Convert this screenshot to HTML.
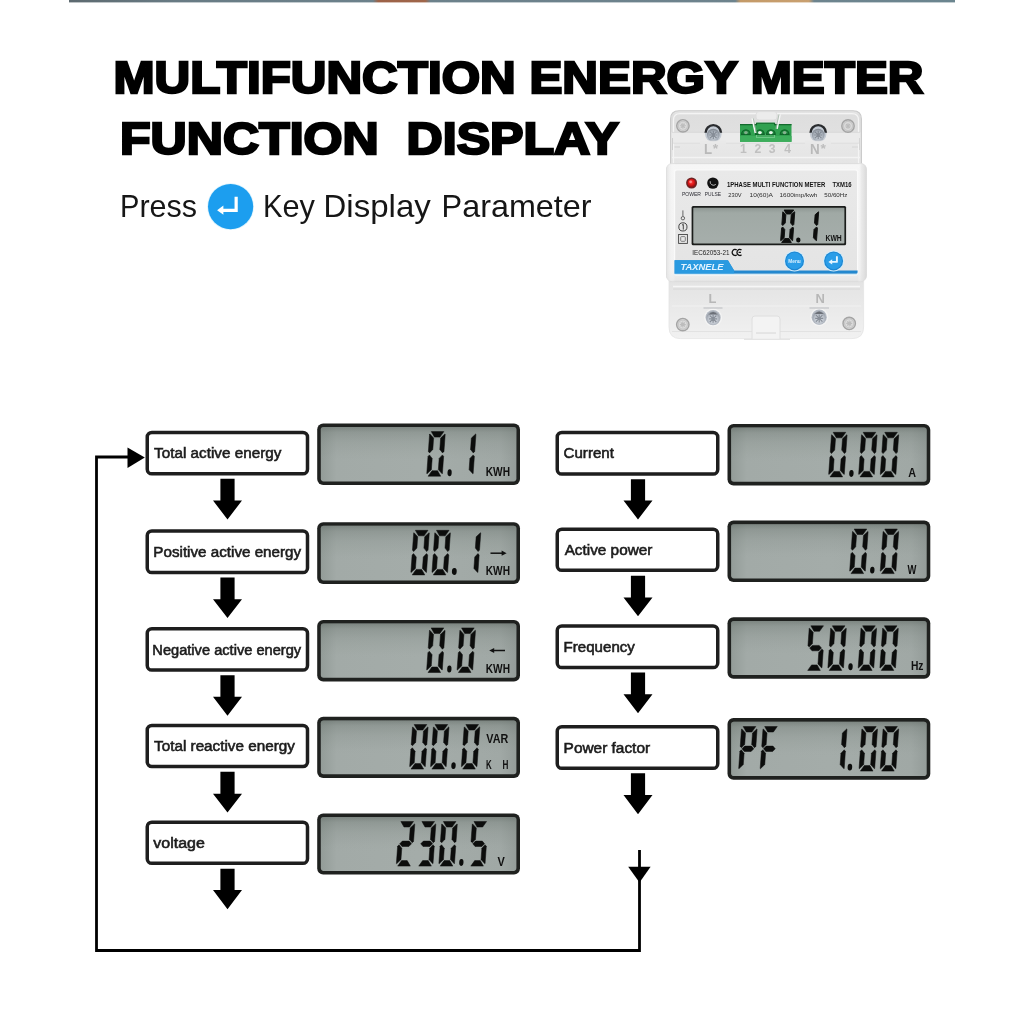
<!DOCTYPE html>
<html><head><meta charset="utf-8"><title>Multifunction Energy Meter Function Display</title>
<style>
html,body{margin:0;padding:0;background:#fff;}
body{width:1024px;height:1024px;overflow:hidden;font-family:"Liberation Sans",sans-serif;}
svg{display:block;position:absolute;left:0;top:0;will-change:transform;}
text{font-family:"Liberation Sans",sans-serif;}
</style></head><body>
<svg width="1024" height="1024" viewBox="0 0 1024 1024">
<defs>
<linearGradient id="lcdg" x1="0" y1="0" x2="1" y2="0">
<stop offset="0" stop-color="#939c98"/><stop offset="0.08" stop-color="#a2aaa7"/><stop offset="0.5" stop-color="#a4aca9"/><stop offset="0.92" stop-color="#a0a8a5"/><stop offset="1" stop-color="#949c99"/>
</linearGradient>
<linearGradient id="lcdv" x1="0" y1="0" x2="0" y2="1">
<stop offset="0" stop-color="#56605a" stop-opacity="0.5"/><stop offset="0.1" stop-color="#636d67" stop-opacity="0.3"/><stop offset="0.28" stop-color="#6f7973" stop-opacity="0.16"/><stop offset="0.5" stop-color="#7a837d" stop-opacity="0.05"/><stop offset="0.65" stop-color="#a4aca9" stop-opacity="0"/><stop offset="1" stop-color="#a4aca9" stop-opacity="0"/>
</linearGradient>
<linearGradient id="strip" x1="0" y1="0" x2="1" y2="0">
<stop offset="0" stop-color="#5d6a70"/><stop offset="0.12" stop-color="#687b84"/><stop offset="0.343" stop-color="#6c818b"/><stop offset="0.349" stop-color="#9c6248"/><stop offset="0.402" stop-color="#a0664a"/><stop offset="0.408" stop-color="#6c818b"/><stop offset="0.752" stop-color="#6d838d"/><stop offset="0.758" stop-color="#c49a68"/><stop offset="0.835" stop-color="#c9a070"/><stop offset="0.841" stop-color="#6d848e"/><stop offset="1" stop-color="#6b858f"/>
</linearGradient>
</defs>
<rect width="1024" height="1024" fill="#fff"/>
<rect x="69" y="0" width="886" height="2.4" fill="url(#strip)"/>

<g id="title">
<text x="113.5" y="92.85" font-size="45" font-weight="bold" fill="#000" stroke="#000" stroke-width="2.4" stroke-linejoin="miter" textLength="810" lengthAdjust="spacingAndGlyphs">MULTIFUNCTION ENERGY METER</text>
<text x="120" y="154.15" font-size="45" font-weight="bold" fill="#000" stroke="#000" stroke-width="2.4" stroke-linejoin="miter" textLength="499" lengthAdjust="spacingAndGlyphs" xml:space="preserve" style="white-space:pre">FUNCTION  DISPLAY</text>
</g>
<g id="press">
<text x="120.00" y="217.10" font-size="30.50" textLength="77.00" lengthAdjust="spacingAndGlyphs" fill="#161616">P<tspan font-size="32.00">ress</tspan></text>
<text x="262.90" y="217.10" font-size="30.50" textLength="52.00" lengthAdjust="spacingAndGlyphs" fill="#161616">K<tspan font-size="32.00">ey</tspan></text>
<text x="323.60" y="217.10" font-size="30.50" textLength="107.20" lengthAdjust="spacingAndGlyphs" fill="#161616">D<tspan font-size="32.00">isplay</tspan></text>
<text x="441.60" y="217.10" font-size="30.50" textLength="150.00" lengthAdjust="spacingAndGlyphs" fill="#161616">P<tspan font-size="32.00">arameter</tspan></text>
<circle cx="230.6" cy="206.6" r="23.4" fill="#bfe9fb" opacity="0.55"/>
<circle cx="230.6" cy="206.6" r="22.6" fill="#1c9eef"/>
<path d="M236.15 196.8 V210.35 H222.6" fill="none" stroke="#fff" stroke-width="3.2"/>
<polygon points="217.1,210.3 223.4,205.5 223.4,214.7" fill="#fff"/>
</g>
<g id="flow">
<path d="M128 457 H96.5 V950.5 H639.5 V850" fill="none" stroke="#000" stroke-width="2.8"/>
<polygon points="127.5,447.5 144.8,457.5 127.5,468" fill="#000"/>
<polygon points="628.2,866.7 650.6,866.7 639.5,882.6" fill="#000"/>
<rect x="147.25" y="432.50" width="160.25" height="41.25" rx="4.6" ry="4.6" fill="#fff" stroke="#1e1e1e" stroke-width="3.50"/>
<text x="154.12" y="458.25" font-size="13.80" textLength="127.23" lengthAdjust="spacingAndGlyphs" fill="#1c1c1c" stroke="#1c1c1c" stroke-width="0.55">Total active energy</text>
<polygon fill="#000" points="220.40,478.75 234.60,478.75 234.60,500.50 242.00,500.50 227.50,519.50 213.00,500.50 220.40,500.50"/>
<rect x="147.25" y="531.00" width="160.25" height="41.50" rx="4.6" ry="4.6" fill="#fff" stroke="#1e1e1e" stroke-width="3.50"/>
<text x="153.37" y="557.00" font-size="13.80" textLength="147.74" lengthAdjust="spacingAndGlyphs" fill="#1c1c1c" stroke="#1c1c1c" stroke-width="0.55">Positive active energy</text>
<polygon fill="#000" points="220.40,577.50 234.60,577.50 234.60,599.25 242.00,599.25 227.50,618.00 213.00,599.25 220.40,599.25"/>
<rect x="147.25" y="628.75" width="160.25" height="41.25" rx="4.6" ry="4.6" fill="#fff" stroke="#1e1e1e" stroke-width="3.50"/>
<text x="152.37" y="654.50" font-size="13.80" textLength="148.74" lengthAdjust="spacingAndGlyphs" fill="#1c1c1c" stroke="#1c1c1c" stroke-width="0.55">Negative active energy</text>
<polygon fill="#000" points="220.40,675.25 234.60,675.25 234.60,696.75 242.00,696.75 227.50,715.75 213.00,696.75 220.40,696.75"/>
<rect x="147.25" y="725.50" width="160.25" height="41.00" rx="4.6" ry="4.6" fill="#fff" stroke="#1e1e1e" stroke-width="3.50"/>
<text x="154.12" y="751.25" font-size="13.80" textLength="140.73" lengthAdjust="spacingAndGlyphs" fill="#1c1c1c" stroke="#1c1c1c" stroke-width="0.55">Total reactive energy</text>
<polygon fill="#000" points="220.40,771.75 234.60,771.75 234.60,793.75 242.00,793.75 227.50,812.50 213.00,793.75 220.40,793.75"/>
<rect x="147.25" y="822.25" width="160.25" height="41.00" rx="4.6" ry="4.6" fill="#fff" stroke="#1e1e1e" stroke-width="3.50"/>
<text x="153.37" y="847.75" font-size="13.80" textLength="51.48" lengthAdjust="spacingAndGlyphs" fill="#1c1c1c" stroke="#1c1c1c" stroke-width="0.55">voltage</text>
<polygon fill="#000" points="220.40,868.75 234.60,868.75 234.60,890.00 242.00,890.00 227.50,909.25 213.00,890.00 220.40,890.00"/>
<rect x="557.25" y="432.50" width="160.50" height="41.50" rx="4.6" ry="4.6" fill="#fff" stroke="#1e1e1e" stroke-width="3.50"/>
<text x="563.62" y="458.25" font-size="13.80" textLength="50.24" lengthAdjust="spacingAndGlyphs" fill="#1c1c1c" stroke="#1c1c1c" stroke-width="0.55">Current</text>
<polygon fill="#000" points="630.90,479.25 645.10,479.25 645.10,500.50 652.50,500.50 638.00,519.50 623.50,500.50 630.90,500.50"/>
<rect x="557.25" y="529.25" width="160.50" height="41.00" rx="4.6" ry="4.6" fill="#fff" stroke="#1e1e1e" stroke-width="3.50"/>
<text x="564.65" y="555.25" font-size="13.80" textLength="87.70" lengthAdjust="spacingAndGlyphs" fill="#1c1c1c" stroke="#1c1c1c" stroke-width="0.55">Active power</text>
<polygon fill="#000" points="630.90,575.75 645.10,575.75 645.10,597.50 652.50,597.50 638.00,616.25 623.50,597.50 630.90,597.50"/>
<rect x="557.25" y="626.00" width="160.50" height="41.50" rx="4.6" ry="4.6" fill="#fff" stroke="#1e1e1e" stroke-width="3.50"/>
<text x="563.62" y="652.25" font-size="13.80" textLength="71.24" lengthAdjust="spacingAndGlyphs" fill="#1c1c1c" stroke="#1c1c1c" stroke-width="0.55">Frequency</text>
<polygon fill="#000" points="630.90,672.50 645.10,672.50 645.10,694.25 652.50,694.25 638.00,713.25 623.50,694.25 630.90,694.25"/>
<rect x="557.25" y="726.75" width="160.50" height="41.50" rx="4.6" ry="4.6" fill="#fff" stroke="#1e1e1e" stroke-width="3.50"/>
<text x="563.62" y="753.25" font-size="13.80" textLength="86.49" lengthAdjust="spacingAndGlyphs" fill="#1c1c1c" stroke="#1c1c1c" stroke-width="0.55">Power factor</text>
<polygon fill="#000" points="630.90,773.25 645.10,773.25 645.10,795.00 652.50,795.00 638.00,814.25 623.50,795.00 630.90,795.00"/>
<rect x="317.20" y="423.40" width="202.80" height="61.60" rx="6" ry="6" fill="#1f211f"/><rect x="320.80" y="427.00" width="195.60" height="54.40" rx="2.8" ry="2.8" fill="url(#lcdg)"/><rect x="320.80" y="427.00" width="195.60" height="54.40" rx="2.8" ry="2.8" fill="url(#lcdv)"/>
<rect x="317.20" y="522.20" width="202.80" height="61.80" rx="6" ry="6" fill="#1f211f"/><rect x="320.80" y="525.80" width="195.60" height="54.60" rx="2.8" ry="2.8" fill="url(#lcdg)"/><rect x="320.80" y="525.80" width="195.60" height="54.60" rx="2.8" ry="2.8" fill="url(#lcdv)"/>
<rect x="317.20" y="620.00" width="202.80" height="61.40" rx="6" ry="6" fill="#1f211f"/><rect x="320.80" y="623.60" width="195.60" height="54.20" rx="2.8" ry="2.8" fill="url(#lcdg)"/><rect x="320.80" y="623.60" width="195.60" height="54.20" rx="2.8" ry="2.8" fill="url(#lcdv)"/>
<rect x="317.20" y="716.80" width="202.80" height="61.10" rx="6" ry="6" fill="#1f211f"/><rect x="320.80" y="720.40" width="195.60" height="53.90" rx="2.8" ry="2.8" fill="url(#lcdg)"/><rect x="320.80" y="720.40" width="195.60" height="53.90" rx="2.8" ry="2.8" fill="url(#lcdv)"/>
<rect x="317.20" y="813.40" width="202.80" height="61.10" rx="6" ry="6" fill="#1f211f"/><rect x="320.80" y="817.00" width="195.60" height="53.90" rx="2.8" ry="2.8" fill="url(#lcdg)"/><rect x="320.80" y="817.00" width="195.60" height="53.90" rx="2.8" ry="2.8" fill="url(#lcdv)"/>
<rect x="727.50" y="424.00" width="202.80" height="61.40" rx="6" ry="6" fill="#1f211f"/><rect x="731.10" y="427.60" width="195.60" height="54.20" rx="2.8" ry="2.8" fill="url(#lcdg)"/><rect x="731.10" y="427.60" width="195.60" height="54.20" rx="2.8" ry="2.8" fill="url(#lcdv)"/>
<rect x="727.50" y="520.60" width="202.80" height="61.40" rx="6" ry="6" fill="#1f211f"/><rect x="731.10" y="524.20" width="195.60" height="54.20" rx="2.8" ry="2.8" fill="url(#lcdg)"/><rect x="731.10" y="524.20" width="195.60" height="54.20" rx="2.8" ry="2.8" fill="url(#lcdv)"/>
<rect x="727.50" y="617.30" width="202.80" height="61.40" rx="6" ry="6" fill="#1f211f"/><rect x="731.10" y="620.90" width="195.60" height="54.20" rx="2.8" ry="2.8" fill="url(#lcdg)"/><rect x="731.10" y="620.90" width="195.60" height="54.20" rx="2.8" ry="2.8" fill="url(#lcdv)"/>
<rect x="727.50" y="718.10" width="202.80" height="61.60" rx="6" ry="6" fill="#1f211f"/><rect x="731.10" y="721.70" width="195.60" height="54.40" rx="2.8" ry="2.8" fill="url(#lcdg)"/><rect x="731.10" y="721.70" width="195.60" height="54.40" rx="2.8" ry="2.8" fill="url(#lcdv)"/>
<g fill="#0c0d0c" stroke="#0c0d0c" stroke-width="0.50" stroke-linejoin="round"><polygon points="431.27,431.60 443.87,431.60 439.98,437.10 434.38,437.10"/><polygon points="445.19,434.20 444.95,434.00 440.61,438.10 439.80,449.40 442.56,452.90 443.96,451.40"/><polygon points="442.38,473.60 442.12,473.80 438.36,469.70 439.17,458.40 442.41,454.90 443.61,456.40"/><polygon points="428.10,476.20 440.70,476.20 437.59,470.70 431.99,470.70"/><polygon points="426.78,473.60 427.02,473.80 431.36,469.70 432.17,458.40 429.41,454.90 428.01,456.40"/><polygon points="429.59,434.20 429.85,434.00 433.61,438.10 432.80,449.40 429.56,452.90 428.36,451.40"/></g>
<ellipse cx="449.60" cy="472.75" rx="2.10" ry="3.45" fill="#0c0d0c" transform="rotate(4 449.60 472.75)"/>
<g fill="#0c0d0c" stroke="#0c0d0c" stroke-width="0.50" stroke-linejoin="round"><polygon points="475.94,434.20 475.70,434.00 471.36,438.10 470.55,449.40 473.31,452.90 474.71,451.40"/><polygon points="473.13,473.60 472.87,473.80 469.11,469.70 469.92,458.40 473.16,454.90 474.36,456.40"/></g>
<text x="485.75" y="476.40" font-size="12.20" font-weight="bold" textLength="24.25" lengthAdjust="spacingAndGlyphs" fill="#111">KWH</text>
<g fill="#0c0d0c" stroke="#0c0d0c" stroke-width="0.50" stroke-linejoin="round"><polygon points="415.37,530.30 427.97,530.30 424.08,535.80 418.48,535.80"/><polygon points="429.29,532.90 429.05,532.70 424.71,536.80 423.90,548.10 426.66,551.60 428.06,550.10"/><polygon points="426.48,572.30 426.22,572.50 422.46,568.40 423.27,557.10 426.51,553.60 427.71,555.10"/><polygon points="412.20,574.90 424.80,574.90 421.69,569.40 416.09,569.40"/><polygon points="410.88,572.30 411.12,572.50 415.46,568.40 416.27,557.10 413.51,553.60 412.11,555.10"/><polygon points="413.69,532.90 413.95,532.70 417.71,536.80 416.90,548.10 413.66,551.60 412.46,550.10"/></g>
<g fill="#0c0d0c" stroke="#0c0d0c" stroke-width="0.50" stroke-linejoin="round"><polygon points="436.47,530.30 449.07,530.30 445.18,535.80 439.58,535.80"/><polygon points="450.39,532.90 450.15,532.70 445.81,536.80 445.00,548.10 447.76,551.60 449.16,550.10"/><polygon points="447.58,572.30 447.32,572.50 443.56,568.40 444.37,557.10 447.61,553.60 448.81,555.10"/><polygon points="433.30,574.90 445.90,574.90 442.79,569.40 437.19,569.40"/><polygon points="431.98,572.30 432.22,572.50 436.56,568.40 437.37,557.10 434.61,553.60 433.21,555.10"/><polygon points="434.79,532.90 435.05,532.70 438.81,536.80 438.00,548.10 434.76,551.60 433.56,550.10"/></g>
<ellipse cx="454.30" cy="571.50" rx="2.40" ry="3.40" fill="#0c0d0c" transform="rotate(4 454.30 571.50)"/>
<g fill="#0c0d0c" stroke="#0c0d0c" stroke-width="0.50" stroke-linejoin="round"><polygon points="480.74,532.90 480.50,532.70 476.16,536.80 475.35,548.10 478.11,551.60 479.51,550.10"/><polygon points="477.93,572.30 477.67,572.50 473.91,568.40 474.72,557.10 477.96,553.60 479.16,555.10"/></g>
<text x="485.75" y="575.10" font-size="12.20" font-weight="bold" textLength="24.25" lengthAdjust="spacingAndGlyphs" fill="#111">KWH</text>
<path d="M490.50 553.20 H503.60" stroke="#111" stroke-width="1.5" fill="none"/><polygon points="506.60,553.20 501.60,550.60 501.60,555.80" fill="#111"/>
<g fill="#0c0d0c" stroke="#0c0d0c" stroke-width="0.50" stroke-linejoin="round"><polygon points="431.17,627.90 443.77,627.90 439.88,633.40 434.28,633.40"/><polygon points="445.09,630.50 444.85,630.30 440.51,634.40 439.70,645.70 442.46,649.20 443.86,647.70"/><polygon points="442.28,669.90 442.02,670.10 438.26,666.00 439.07,654.70 442.31,651.20 443.51,652.70"/><polygon points="428.00,672.50 440.60,672.50 437.49,667.00 431.89,667.00"/><polygon points="426.68,669.90 426.92,670.10 431.26,666.00 432.07,654.70 429.31,651.20 427.91,652.70"/><polygon points="429.49,630.50 429.75,630.30 433.51,634.40 432.70,645.70 429.46,649.20 428.26,647.70"/></g>
<ellipse cx="449.35" cy="669.05" rx="2.15" ry="3.45" fill="#0c0d0c" transform="rotate(4 449.35 669.05)"/>
<g fill="#0c0d0c" stroke="#0c0d0c" stroke-width="0.50" stroke-linejoin="round"><polygon points="461.57,627.90 474.17,627.90 470.28,633.40 464.68,633.40"/><polygon points="475.49,630.50 475.25,630.30 470.91,634.40 470.10,645.70 472.86,649.20 474.26,647.70"/><polygon points="472.68,669.90 472.42,670.10 468.66,666.00 469.47,654.70 472.71,651.20 473.91,652.70"/><polygon points="458.40,672.50 471.00,672.50 467.89,667.00 462.29,667.00"/><polygon points="457.08,669.90 457.32,670.10 461.66,666.00 462.47,654.70 459.71,651.20 458.31,652.70"/><polygon points="459.89,630.50 460.15,630.30 463.91,634.40 463.10,645.70 459.86,649.20 458.66,647.70"/></g>
<text x="485.75" y="672.90" font-size="12.20" font-weight="bold" textLength="24.25" lengthAdjust="spacingAndGlyphs" fill="#111">KWH</text>
<path d="M492.20 650.50 H505.00" stroke="#111" stroke-width="1.5" fill="none"/><polygon points="489.20,650.50 494.20,647.90 494.20,653.10" fill="#111"/>
<g fill="#0c0d0c" stroke="#0c0d0c" stroke-width="0.50" stroke-linejoin="round"><polygon points="414.17,724.50 426.77,724.50 422.88,730.00 417.28,730.00"/><polygon points="428.09,727.10 427.85,726.90 423.51,731.00 422.70,742.30 425.46,745.80 426.86,744.30"/><polygon points="425.28,766.50 425.02,766.70 421.26,762.60 422.07,751.30 425.31,747.80 426.51,749.30"/><polygon points="411.00,769.10 423.60,769.10 420.49,763.60 414.89,763.60"/><polygon points="409.68,766.50 409.92,766.70 414.26,762.60 415.07,751.30 412.31,747.80 410.91,749.30"/><polygon points="412.49,727.10 412.75,726.90 416.51,731.00 415.70,742.30 412.46,745.80 411.26,744.30"/></g>
<g fill="#0c0d0c" stroke="#0c0d0c" stroke-width="0.50" stroke-linejoin="round"><polygon points="435.07,724.50 447.67,724.50 443.78,730.00 438.18,730.00"/><polygon points="448.99,727.10 448.75,726.90 444.41,731.00 443.60,742.30 446.36,745.80 447.76,744.30"/><polygon points="446.18,766.50 445.92,766.70 442.16,762.60 442.97,751.30 446.21,747.80 447.41,749.30"/><polygon points="431.90,769.10 444.50,769.10 441.39,763.60 435.79,763.60"/><polygon points="430.58,766.50 430.82,766.70 435.16,762.60 435.97,751.30 433.21,747.80 431.81,749.30"/><polygon points="433.39,727.10 433.65,726.90 437.41,731.00 436.60,742.30 433.36,745.80 432.16,744.30"/></g>
<ellipse cx="453.50" cy="765.65" rx="2.20" ry="3.45" fill="#0c0d0c" transform="rotate(4 453.50 765.65)"/>
<g fill="#0c0d0c" stroke="#0c0d0c" stroke-width="0.50" stroke-linejoin="round"><polygon points="465.87,724.50 478.47,724.50 474.58,730.00 468.98,730.00"/><polygon points="479.79,727.10 479.55,726.90 475.21,731.00 474.40,742.30 477.16,745.80 478.56,744.30"/><polygon points="476.98,766.50 476.72,766.70 472.96,762.60 473.77,751.30 477.01,747.80 478.21,749.30"/><polygon points="462.70,769.10 475.30,769.10 472.19,763.60 466.59,763.60"/><polygon points="461.38,766.50 461.62,766.70 465.96,762.60 466.77,751.30 464.01,747.80 462.61,749.30"/><polygon points="464.19,727.10 464.45,726.90 468.21,731.00 467.40,742.30 464.16,745.80 462.96,744.30"/></g>
<text x="486.30" y="742.50" font-size="12.20" font-weight="bold" textLength="22.00" lengthAdjust="spacingAndGlyphs" fill="#111">VAR</text>
<text x="485.90" y="769.30" font-size="12.20" font-weight="bold" textLength="5.70" lengthAdjust="spacingAndGlyphs" fill="#111">K</text>
<text x="502.40" y="769.30" font-size="12.20" font-weight="bold" textLength="5.90" lengthAdjust="spacingAndGlyphs" fill="#111">H</text>
<g fill="#0c0d0c" stroke="#0c0d0c" stroke-width="0.50" stroke-linejoin="round"><polygon points="400.87,821.50 413.47,821.50 409.58,827.00 403.98,827.00"/><polygon points="414.79,824.10 414.55,823.90 410.21,828.00 409.40,839.30 412.16,842.80 413.56,841.30"/><polygon points="399.69,843.80 402.38,841.10 409.18,841.10 411.49,843.80 408.79,846.50 401.99,846.50"/><polygon points="396.38,863.50 396.62,863.70 400.96,859.60 401.77,848.30 399.01,844.80 397.61,846.30"/><polygon points="397.70,866.10 410.30,866.10 407.19,860.60 401.59,860.60"/></g>
<g fill="#0c0d0c" stroke="#0c0d0c" stroke-width="0.50" stroke-linejoin="round"><polygon points="421.92,821.50 434.52,821.50 430.63,827.00 425.03,827.00"/><polygon points="435.84,824.10 435.60,823.90 431.26,828.00 430.45,839.30 433.21,842.80 434.61,841.30"/><polygon points="420.74,843.80 423.43,841.10 430.23,841.10 432.54,843.80 429.84,846.50 423.04,846.50"/><polygon points="433.03,863.50 432.77,863.70 429.01,859.60 429.82,848.30 433.06,844.80 434.26,846.30"/><polygon points="418.75,866.10 431.35,866.10 428.24,860.60 422.64,860.60"/></g>
<g fill="#0c0d0c" stroke="#0c0d0c" stroke-width="0.50" stroke-linejoin="round"><polygon points="443.37,821.50 455.97,821.50 452.08,827.00 446.48,827.00"/><polygon points="457.29,824.10 457.05,823.90 452.71,828.00 451.90,839.30 454.66,842.80 456.06,841.30"/><polygon points="454.48,863.50 454.22,863.70 450.46,859.60 451.27,848.30 454.51,844.80 455.71,846.30"/><polygon points="440.20,866.10 452.80,866.10 449.69,860.60 444.09,860.60"/><polygon points="438.88,863.50 439.12,863.70 443.46,859.60 444.27,848.30 441.51,844.80 440.11,846.30"/><polygon points="441.69,824.10 441.95,823.90 445.71,828.00 444.90,839.30 441.66,842.80 440.46,841.30"/></g>
<ellipse cx="461.35" cy="862.45" rx="2.15" ry="3.45" fill="#0c0d0c" transform="rotate(4 461.35 862.45)"/>
<g fill="#0c0d0c" stroke="#0c0d0c" stroke-width="0.50" stroke-linejoin="round"><polygon points="473.97,821.50 486.57,821.50 482.68,827.00 477.08,827.00"/><polygon points="472.29,824.10 472.55,823.90 476.31,828.00 475.50,839.30 472.26,842.80 471.06,841.30"/><polygon points="472.79,843.80 475.48,841.10 482.28,841.10 484.59,843.80 481.89,846.50 475.09,846.50"/><polygon points="485.08,863.50 484.82,863.70 481.06,859.60 481.87,848.30 485.11,844.80 486.31,846.30"/><polygon points="470.80,866.10 483.40,866.10 480.29,860.60 474.69,860.60"/></g>
<text x="497.60" y="866.20" font-size="12.20" font-weight="bold" textLength="7.30" lengthAdjust="spacingAndGlyphs" fill="#111">V</text>
<g fill="#0c0d0c" stroke="#0c0d0c" stroke-width="0.50" stroke-linejoin="round"><polygon points="833.17,432.30 845.77,432.30 841.88,437.80 836.28,437.80"/><polygon points="847.09,434.90 846.85,434.70 842.51,438.80 841.70,450.10 844.46,453.60 845.86,452.10"/><polygon points="844.28,474.30 844.02,474.50 840.26,470.40 841.07,459.10 844.31,455.60 845.51,457.10"/><polygon points="830.00,476.90 842.60,476.90 839.49,471.40 833.89,471.40"/><polygon points="828.68,474.30 828.92,474.50 833.26,470.40 834.07,459.10 831.31,455.60 829.91,457.10"/><polygon points="831.49,434.90 831.75,434.70 835.51,438.80 834.70,450.10 831.46,453.60 830.26,452.10"/></g>
<ellipse cx="851.40" cy="473.45" rx="2.20" ry="3.45" fill="#0c0d0c" transform="rotate(4 851.40 473.45)"/>
<g fill="#0c0d0c" stroke="#0c0d0c" stroke-width="0.50" stroke-linejoin="round"><polygon points="863.17,432.30 875.77,432.30 871.88,437.80 866.28,437.80"/><polygon points="877.09,434.90 876.85,434.70 872.51,438.80 871.70,450.10 874.46,453.60 875.86,452.10"/><polygon points="874.28,474.30 874.02,474.50 870.26,470.40 871.07,459.10 874.31,455.60 875.51,457.10"/><polygon points="860.00,476.90 872.60,476.90 869.49,471.40 863.89,471.40"/><polygon points="858.68,474.30 858.92,474.50 863.26,470.40 864.07,459.10 861.31,455.60 859.91,457.10"/><polygon points="861.49,434.90 861.75,434.70 865.51,438.80 864.70,450.10 861.46,453.60 860.26,452.10"/></g>
<g fill="#0c0d0c" stroke="#0c0d0c" stroke-width="0.50" stroke-linejoin="round"><polygon points="884.77,432.30 897.37,432.30 893.48,437.80 887.88,437.80"/><polygon points="898.69,434.90 898.45,434.70 894.11,438.80 893.30,450.10 896.06,453.60 897.46,452.10"/><polygon points="895.88,474.30 895.62,474.50 891.86,470.40 892.67,459.10 895.91,455.60 897.11,457.10"/><polygon points="881.60,476.90 894.20,476.90 891.09,471.40 885.49,471.40"/><polygon points="880.28,474.30 880.52,474.50 884.86,470.40 885.67,459.10 882.91,455.60 881.51,457.10"/><polygon points="883.09,434.90 883.35,434.70 887.11,438.80 886.30,450.10 883.06,453.60 881.86,452.10"/></g>
<text x="908.20" y="476.80" font-size="12.20" font-weight="bold" textLength="7.80" lengthAdjust="spacingAndGlyphs" fill="#111">A</text>
<g fill="#0c0d0c" stroke="#0c0d0c" stroke-width="0.50" stroke-linejoin="round"><polygon points="854.17,529.00 866.77,529.00 862.88,534.50 857.28,534.50"/><polygon points="868.09,531.60 867.85,531.40 863.51,535.50 862.70,546.80 865.46,550.30 866.86,548.80"/><polygon points="865.28,571.00 865.02,571.20 861.26,567.10 862.07,555.80 865.31,552.30 866.51,553.80"/><polygon points="851.00,573.60 863.60,573.60 860.49,568.10 854.89,568.10"/><polygon points="849.68,571.00 849.92,571.20 854.26,567.10 855.07,555.80 852.31,552.30 850.91,553.80"/><polygon points="852.49,531.60 852.75,531.40 856.51,535.50 855.70,546.80 852.46,550.30 851.26,548.80"/></g>
<ellipse cx="872.30" cy="570.15" rx="2.20" ry="3.45" fill="#0c0d0c" transform="rotate(4 872.30 570.15)"/>
<g fill="#0c0d0c" stroke="#0c0d0c" stroke-width="0.50" stroke-linejoin="round"><polygon points="884.77,529.00 897.37,529.00 893.48,534.50 887.88,534.50"/><polygon points="898.69,531.60 898.45,531.40 894.11,535.50 893.30,546.80 896.06,550.30 897.46,548.80"/><polygon points="895.88,571.00 895.62,571.20 891.86,567.10 892.67,555.80 895.91,552.30 897.11,553.80"/><polygon points="881.60,573.60 894.20,573.60 891.09,568.10 885.49,568.10"/><polygon points="880.28,571.00 880.52,571.20 884.86,567.10 885.67,555.80 882.91,552.30 881.51,553.80"/><polygon points="883.09,531.60 883.35,531.40 887.11,535.50 886.30,546.80 883.06,550.30 881.86,548.80"/></g>
<text x="907.60" y="573.60" font-size="12.20" font-weight="bold" textLength="8.90" lengthAdjust="spacingAndGlyphs" fill="#111">W</text>
<g fill="#0c0d0c" stroke="#0c0d0c" stroke-width="0.50" stroke-linejoin="round"><polygon points="810.87,625.80 823.47,625.80 819.58,631.30 813.98,631.30"/><polygon points="809.19,628.40 809.45,628.20 813.21,632.30 812.40,643.60 809.16,647.10 807.96,645.60"/><polygon points="809.69,648.10 812.38,645.40 819.18,645.40 821.49,648.10 818.79,650.80 811.99,650.80"/><polygon points="821.98,667.80 821.72,668.00 817.96,663.90 818.77,652.60 822.01,649.10 823.21,650.60"/><polygon points="807.70,670.40 820.30,670.40 817.19,664.90 811.59,664.90"/></g>
<g fill="#0c0d0c" stroke="#0c0d0c" stroke-width="0.50" stroke-linejoin="round"><polygon points="832.37,625.80 844.97,625.80 841.08,631.30 835.48,631.30"/><polygon points="846.29,628.40 846.05,628.20 841.71,632.30 840.90,643.60 843.66,647.10 845.06,645.60"/><polygon points="843.48,667.80 843.22,668.00 839.46,663.90 840.27,652.60 843.51,649.10 844.71,650.60"/><polygon points="829.20,670.40 841.80,670.40 838.69,664.90 833.09,664.90"/><polygon points="827.88,667.80 828.12,668.00 832.46,663.90 833.27,652.60 830.51,649.10 829.11,650.60"/><polygon points="830.69,628.40 830.95,628.20 834.71,632.30 833.90,643.60 830.66,647.10 829.46,645.60"/></g>
<ellipse cx="850.50" cy="666.75" rx="2.20" ry="3.45" fill="#0c0d0c" transform="rotate(4 850.50 666.75)"/>
<g fill="#0c0d0c" stroke="#0c0d0c" stroke-width="0.50" stroke-linejoin="round"><polygon points="862.67,625.80 875.27,625.80 871.38,631.30 865.78,631.30"/><polygon points="876.59,628.40 876.35,628.20 872.01,632.30 871.20,643.60 873.96,647.10 875.36,645.60"/><polygon points="873.78,667.80 873.52,668.00 869.76,663.90 870.57,652.60 873.81,649.10 875.01,650.60"/><polygon points="859.50,670.40 872.10,670.40 868.99,664.90 863.39,664.90"/><polygon points="858.18,667.80 858.42,668.00 862.76,663.90 863.57,652.60 860.81,649.10 859.41,650.60"/><polygon points="860.99,628.40 861.25,628.20 865.01,632.30 864.20,643.60 860.96,647.10 859.76,645.60"/></g>
<g fill="#0c0d0c" stroke="#0c0d0c" stroke-width="0.50" stroke-linejoin="round"><polygon points="884.37,625.80 896.97,625.80 893.08,631.30 887.48,631.30"/><polygon points="898.29,628.40 898.05,628.20 893.71,632.30 892.90,643.60 895.66,647.10 897.06,645.60"/><polygon points="895.48,667.80 895.22,668.00 891.46,663.90 892.27,652.60 895.51,649.10 896.71,650.60"/><polygon points="881.20,670.40 893.80,670.40 890.69,664.90 885.09,664.90"/><polygon points="879.88,667.80 880.12,668.00 884.46,663.90 885.27,652.60 882.51,649.10 881.11,650.60"/><polygon points="882.69,628.40 882.95,628.20 886.71,632.30 885.90,643.60 882.66,647.10 881.46,645.60"/></g>
<text x="910.90" y="670.40" font-size="12.20" font-weight="bold" textLength="12.60" lengthAdjust="spacingAndGlyphs" fill="#111">Hz</text>
<g fill="#0c0d0c" stroke="#0c0d0c" stroke-width="0.50" stroke-linejoin="round"><polygon points="743.17,726.50 755.77,726.50 751.88,732.00 746.28,732.00"/><polygon points="757.09,729.10 756.85,728.90 752.51,733.00 751.70,744.30 754.46,747.80 755.86,746.30"/><polygon points="738.68,768.50 738.92,768.70 743.26,764.60 744.07,753.30 741.31,749.80 739.91,751.30"/><polygon points="741.49,729.10 741.75,728.90 745.51,733.00 744.70,744.30 741.46,747.80 740.26,746.30"/><polygon points="741.99,748.80 744.68,746.10 751.48,746.10 753.78,748.80 751.09,751.50 744.29,751.50"/></g>
<g fill="#0c0d0c" stroke="#0c0d0c" stroke-width="0.50" stroke-linejoin="round"><polygon points="764.67,726.50 777.27,726.50 773.38,732.00 767.78,732.00"/><polygon points="760.18,768.50 760.42,768.70 764.76,764.60 765.57,753.30 762.81,749.80 761.41,751.30"/><polygon points="762.99,729.10 763.25,728.90 767.01,733.00 766.20,744.30 762.96,747.80 761.76,746.30"/><polygon points="763.49,748.80 766.18,746.10 772.98,746.10 775.28,748.80 772.59,751.50 765.79,751.50"/></g>
<g fill="#0c0d0c" stroke="#0c0d0c" stroke-width="0.50" stroke-linejoin="round"><polygon points="846.99,729.10 846.75,728.90 842.41,733.00 841.60,744.30 844.36,747.80 845.76,746.30"/><polygon points="844.18,768.50 843.92,768.70 840.16,764.60 840.97,753.30 844.21,749.80 845.41,751.30"/></g>
<ellipse cx="849.90" cy="767.15" rx="2.30" ry="3.45" fill="#0c0d0c" transform="rotate(4 849.90 767.15)"/>
<g fill="#0c0d0c" stroke="#0c0d0c" stroke-width="0.50" stroke-linejoin="round"><polygon points="863.57,726.50 876.17,726.50 872.28,732.00 866.68,732.00"/><polygon points="877.49,729.10 877.25,728.90 872.91,733.00 872.10,744.30 874.86,747.80 876.26,746.30"/><polygon points="874.68,768.50 874.42,768.70 870.66,764.60 871.47,753.30 874.71,749.80 875.91,751.30"/><polygon points="860.40,771.10 873.00,771.10 869.89,765.60 864.29,765.60"/><polygon points="859.08,768.50 859.32,768.70 863.66,764.60 864.47,753.30 861.71,749.80 860.31,751.30"/><polygon points="861.89,729.10 862.15,728.90 865.91,733.00 865.10,744.30 861.86,747.80 860.66,746.30"/></g>
<g fill="#0c0d0c" stroke="#0c0d0c" stroke-width="0.50" stroke-linejoin="round"><polygon points="884.77,726.50 897.37,726.50 893.48,732.00 887.88,732.00"/><polygon points="898.69,729.10 898.45,728.90 894.11,733.00 893.30,744.30 896.06,747.80 897.46,746.30"/><polygon points="895.88,768.50 895.62,768.70 891.86,764.60 892.67,753.30 895.91,749.80 897.11,751.30"/><polygon points="881.60,771.10 894.20,771.10 891.09,765.60 885.49,765.60"/><polygon points="880.28,768.50 880.52,768.70 884.86,764.60 885.67,753.30 882.91,749.80 881.51,751.30"/><polygon points="883.09,729.10 883.35,728.90 887.11,733.00 886.30,744.30 883.06,747.80 881.86,746.30"/></g>
</g>
<g id="meter">
<defs>
<linearGradient id="mcov" x1="0" y1="0" x2="0" y2="1"><stop offset="0" stop-color="#e6e6e6"/><stop offset="0.08" stop-color="#dedede"/><stop offset="0.34" stop-color="#e0e0e0"/><stop offset="0.36" stop-color="#e9e9e9"/><stop offset="0.55" stop-color="#e8e8e8"/><stop offset="0.8" stop-color="#e5e5e5"/><stop offset="1" stop-color="#e2e2e2"/></linearGradient>
<linearGradient id="mlow" x1="0" y1="0" x2="0" y2="1"><stop offset="0" stop-color="#d9d9d9"/><stop offset="0.12" stop-color="#e4e4e4"/><stop offset="0.55" stop-color="#eaeaea"/><stop offset="1" stop-color="#f1f1f1"/></linearGradient>
<linearGradient id="mbody" x1="0" y1="0" x2="0" y2="1"><stop offset="0" stop-color="#f6f6f6"/><stop offset="0.9" stop-color="#f1f1f1"/><stop offset="1" stop-color="#e6e6e6"/></linearGradient>
<linearGradient id="mside" x1="0" y1="0" x2="1" y2="0"><stop offset="0" stop-color="#e2e2e2" stop-opacity="0.9"/><stop offset="0.02" stop-color="#f0f0f0" stop-opacity="0.5"/><stop offset="0.045" stop-color="#fff" stop-opacity="0"/><stop offset="0.955" stop-color="#fff" stop-opacity="0"/><stop offset="0.975" stop-color="#e6e6e6" stop-opacity="0.7"/><stop offset="1" stop-color="#d8d8d8" stop-opacity="0.95"/></linearGradient>
<linearGradient id="mplate" x1="0" y1="0" x2="0" y2="1"><stop offset="0" stop-color="#e9e9e9"/><stop offset="1" stop-color="#e4e4e4"/></linearGradient>
<radialGradient id="mled" cx="0.45" cy="0.4" r="0.6"><stop offset="0" stop-color="#ff4a4a"/><stop offset="0.55" stop-color="#e01818"/><stop offset="1" stop-color="#8f1010"/></radialGradient>
<radialGradient id="mscrew" cx="0.5" cy="0.5" r="0.5"><stop offset="0" stop-color="#e9e9e9"/><stop offset="0.7" stop-color="#dcdcdc"/><stop offset="1" stop-color="#bdbdbd"/></radialGradient>
<radialGradient id="mterm" cx="0.5" cy="0.6" r="0.6"><stop offset="0" stop-color="#d5dbe2"/><stop offset="0.6" stop-color="#aab2bc"/><stop offset="1" stop-color="#7c838c"/></radialGradient>
<radialGradient id="mterm2" cx="0.5" cy="0.6" r="0.6"><stop offset="0" stop-color="#e2e6eb"/><stop offset="0.6" stop-color="#bcc2cb"/><stop offset="1" stop-color="#8f959e"/></radialGradient>
<linearGradient id="mlcd" x1="0" y1="0" x2="0" y2="1"><stop offset="0" stop-color="#8e9793"/><stop offset="0.15" stop-color="#a0a9a5"/><stop offset="1" stop-color="#a6aeab"/></linearGradient>
</defs>
<path d="M669 276 H863.6 V327 Q863.6 338.6 852 338.6 H680.6 Q669 338.6 669 327 Z" fill="url(#mlow)" stroke="#e3e3e3" stroke-width="0.8"/>
<path d="M673 286.5 H860" stroke="#f6f6f6" stroke-width="1.6" fill="none"/>
<path d="M673 289 H860" stroke="#d6d6d6" stroke-width="0.8" fill="none"/>
<path d="M672 306 H861" stroke="#f2f2f2" stroke-width="1.2" fill="none" opacity="0.9"/>
<path d="M672 331.5 H861" stroke="#dedede" stroke-width="0.8" fill="none"/>
<path d="M752 339.5 V319 Q752 316 755 316 H777 Q780 316 780 319 V339.5 Z" fill="#f3f3f3" stroke="#dcdcdc" stroke-width="0.9"/>
<path d="M756 333 H776" stroke="#d4d4d4" stroke-width="0.9"/>
<path d="M744 339.3 H790" stroke="#e4e4e4" stroke-width="1.2"/>
<path d="M670.6 172 V119 Q670.6 110.8 679 110.8 H853 Q861.4 110.8 861.4 119 V172 Z" fill="url(#mcov)" stroke="#c9c9c9" stroke-width="1.1"/>
<path d="M673.5 168 V120 Q673.5 113.6 680 113.6 H852 Q858.5 113.6 858.5 120 V168" fill="none" stroke="#f4f4f4" stroke-width="1.2"/>
<rect x="672" y="132.4" width="188" height="10.6" fill="#ebebeb"/>
<path d="M672 132.4 H860" stroke="#d6d6d6" stroke-width="0.8"/><path d="M672 143.2 H860" stroke="#dadada" stroke-width="0.8"/>
<path d="M672 157.5 H860" stroke="#f3f3f3" stroke-width="1.4"/>
<path d="M672.5 138 V150 M674.5 147 H680" stroke="#cfcfcf" stroke-width="1" fill="none"/>
<path d="M859.5 138 V150 M852 147 H858" stroke="#d6d6d6" stroke-width="1" fill="none"/>
<circle cx="682.9" cy="125.8" r="6.2" fill="#d6d6d6" stroke="#a4a4a4" stroke-width="1.4"/><circle cx="682.9" cy="125.8" r="4.9" fill="url(#mscrew)"/><path d="M679.9 125.8 h6 M682.9 122.8 v6 M680.8 123.7 l4.2 4.2 M685.0 123.7 l-4.2 4.2" stroke="#bdbdbd" stroke-width="1.1"/>
<circle cx="848" cy="126" r="6.2" fill="#d6d6d6" stroke="#a4a4a4" stroke-width="1.4"/><circle cx="848" cy="126" r="4.9" fill="url(#mscrew)"/><path d="M845 126 h6 M848 123 v6 M845.9 123.9 l4.2 4.2 M850.1 123.9 l-4.2 4.2" stroke="#bdbdbd" stroke-width="1.1"/>
<circle cx="682.8" cy="324.6" r="6.2" fill="#d6d6d6" stroke="#a4a4a4" stroke-width="1.4"/><circle cx="682.8" cy="324.6" r="4.9" fill="url(#mscrew)"/><path d="M679.8 324.6 h6 M682.8 321.6 v6 M680.6999999999999 322.5 l4.2 4.2 M684.9 322.5 l-4.2 4.2" stroke="#bdbdbd" stroke-width="1.1"/>
<circle cx="849.2" cy="323.4" r="6.2" fill="#d6d6d6" stroke="#a4a4a4" stroke-width="1.4"/><circle cx="849.2" cy="323.4" r="4.9" fill="url(#mscrew)"/><path d="M846.2 323.4 h6 M849.2 320.4 v6 M847.1 321.29999999999995 l4.2 4.2 M851.3000000000001 321.29999999999995 l-4.2 4.2" stroke="#bdbdbd" stroke-width="1.1"/>
<circle cx="713.3" cy="133.8" r="8.3" fill="#c3cad3"/><path d="M705.6 132.8 A7.700000000000001 7.700000000000001 0 0 1 720.9999999999999 132.8" fill="none" stroke="#2a2c2f" stroke-width="2.4"/><circle cx="713.3" cy="135.0" r="6.300000000000001" fill="url(#mterm)"/><path d="M710.0999999999999 131.8 l6.4 6.4 M716.5 131.8 l-6.4 6.4 M709.3 135.0 h8 M713.3 131.0 v8" stroke="#7b828c" stroke-width="1.2" opacity="0.85"/>
<circle cx="818.2" cy="133.8" r="8.3" fill="#c3cad3"/><path d="M810.5000000000001 132.8 A7.700000000000001 7.700000000000001 0 0 1 825.9 132.8" fill="none" stroke="#2a2c2f" stroke-width="2.4"/><circle cx="818.2" cy="135.0" r="6.300000000000001" fill="url(#mterm)"/><path d="M815.0 131.8 l6.4 6.4 M821.4000000000001 131.8 l-6.4 6.4 M814.2 135.0 h8 M818.2 131.0 v8" stroke="#7b828c" stroke-width="1.2" opacity="0.85"/>
<rect x="700" y="140.6" width="26" height="3.4" fill="#e9e9e9" opacity="0.85"/><rect x="805" y="140.6" width="26" height="3.4" fill="#e9e9e9" opacity="0.85"/>
<circle cx="713.1" cy="317.6" r="9.0" fill="#f4f4f4"/><circle cx="713.1" cy="317.6" r="7.6" fill="#b4bac3"/><circle cx="713.1" cy="318.20000000000005" r="6.6" fill="url(#mterm2)"/><path d="M708.6 314.40000000000003 q4.5 -5 9 0" fill="#5b5f66" opacity="0.8"/><path d="M709.9 315.6 l6.4 6.4 M716.3000000000001 315.6 l-6.4 6.4 M709.1 318.8 h8 M713.1 314.8 v8" stroke="#7b828c" stroke-width="1.2" opacity="0.85"/>
<circle cx="819.2" cy="317.2" r="9.0" fill="#f4f4f4"/><circle cx="819.2" cy="317.2" r="7.6" fill="#b4bac3"/><circle cx="819.2" cy="317.8" r="6.6" fill="url(#mterm2)"/><path d="M814.7 314.0 q4.5 -5 9 0" fill="#5b5f66" opacity="0.8"/><path d="M816.0 315.2 l6.4 6.4 M822.4000000000001 315.2 l-6.4 6.4 M815.2 318.4 h8 M819.2 314.4 v8" stroke="#7b828c" stroke-width="1.2" opacity="0.85"/>
<path d="M703.5 308 H722.5 M809.5 308 H829" stroke="#b9bcc0" stroke-width="1.1"/>
<rect x="740" y="124.1" width="51.5" height="17.7" fill="#30a150"/>
<rect x="756.5" y="122.7" width="18.1" height="3" fill="#30a150"/>
<path d="M740 124.6 H756.5 V123.2 H774.6 V124.6 H791.5" fill="none" stroke="#136a2d" stroke-width="1.1"/>
<rect x="740" y="136" width="51.5" height="5.8" fill="#3dae5c"/>
<rect x="756" y="134.6" width="19" height="3.4" fill="#6cc785"/>
<rect x="757" y="135.4" width="17" height="1.2" fill="#2c994a"/>
<path d="M741.6 134.4 A4.3 4.6 0 0 1 750.1999999999999 134.4 Z" fill="#1f8a3e" stroke="#0f652a" stroke-width="1.3"/><ellipse cx="745.9" cy="132.6" rx="1.9" ry="1.6" fill="#7fae8a"/>
<path d="M755.6 134.4 A4.3 4.6 0 0 1 764.1999999999999 134.4 Z" fill="#1f8a3e" stroke="#0f652a" stroke-width="1.3"/><ellipse cx="759.9" cy="132.6" rx="1.9" ry="1.6" fill="#e6f3e8"/>
<path d="M766.6 134.4 A4.3 4.6 0 0 1 775.1999999999999 134.4 Z" fill="#1f8a3e" stroke="#0f652a" stroke-width="1.3"/><ellipse cx="770.9" cy="132.6" rx="1.9" ry="1.6" fill="#e6f3e8"/>
<path d="M780.3000000000001 134.4 A4.3 4.6 0 0 1 788.9 134.4 Z" fill="#1f8a3e" stroke="#0f652a" stroke-width="1.3"/><ellipse cx="784.6" cy="132.6" rx="1.9" ry="1.6" fill="#86b290"/>
<path d="M752.1 118.4 L755.3 133 M780.2 114.4 L777.1 128.8" stroke="#f6f6f6" stroke-width="1.5" fill="none"/>
<path d="M753.3 118.4 L756.5 133 M779.0 114.4 L775.9 128.8" stroke="#9fb3a4" stroke-width="0.7" fill="none"/>
<rect x="756" y="111.6" width="21" height="8.4" rx="3" fill="#ececec" stroke="#dadada" stroke-width="0.8"/>
<text x="704" y="154" font-size="13.8" font-weight="bold" fill="#b9b9b9" textLength="8.1" lengthAdjust="spacingAndGlyphs">L</text>
<text x="712.8" y="153.2" font-size="13" font-weight="bold" fill="#bdbdbd" textLength="5.4" lengthAdjust="spacingAndGlyphs">*</text>
<text x="809.9" y="154" font-size="13.8" font-weight="bold" fill="#b9b9b9" textLength="9.7" lengthAdjust="spacingAndGlyphs">N</text>
<text x="820.6" y="153.2" font-size="13" font-weight="bold" fill="#bdbdbd" textLength="5.4" lengthAdjust="spacingAndGlyphs">*</text>
<text x="743.4" y="152.7" font-size="12.2" font-weight="bold" fill="#c0c0c0" text-anchor="middle">1</text>
<text x="758.0" y="152.7" font-size="12.2" font-weight="bold" fill="#c0c0c0" text-anchor="middle">2</text>
<text x="772.1" y="152.7" font-size="12.2" font-weight="bold" fill="#c0c0c0" text-anchor="middle">3</text>
<text x="787.7" y="152.7" font-size="12.2" font-weight="bold" fill="#c0c0c0" text-anchor="middle">4</text>
<text x="708.5" y="302.9" font-size="13.6" font-weight="bold" fill="#b7b7b7" textLength="7.9" lengthAdjust="spacingAndGlyphs">L</text>
<text x="815.5" y="302.9" font-size="13.6" font-weight="bold" fill="#b7b7b7" textLength="9.4" lengthAdjust="spacingAndGlyphs">N</text>
<rect x="666.5" y="163.6" width="199.9" height="117.8" rx="5.5" fill="url(#mbody)" stroke="#dadada" stroke-width="0.9"/>
<rect x="666.5" y="163.6" width="199.9" height="117.8" rx="5.5" fill="url(#mside)"/>
<rect x="674.6" y="169.8" width="183" height="105.2" rx="2.2" fill="url(#mplate)" stroke="#fafafa" stroke-width="1.2"/>
<circle cx="691.6" cy="183" r="5.5" fill="#6e2323"/><circle cx="691.6" cy="183" r="4.0" fill="url(#mled)"/><circle cx="690.6" cy="181.8" r="1.4" fill="#ff9d9d" opacity="0.8"/>
<circle cx="712.9" cy="183.1" r="5.7" fill="#111"/><path d="M710.2 181.2 a3.4 3.4 0 0 0 5.6 3.2" stroke="#cfcfcf" stroke-width="1" fill="none" opacity="0.85"/>
<text x="682" y="195.5" font-size="6.1" font-weight="normal" fill="#2b2b33" textLength="19" lengthAdjust="spacingAndGlyphs">POWER</text>
<text x="704.8" y="195.5" font-size="6.1" font-weight="normal" fill="#2b2b33" textLength="16.2" lengthAdjust="spacingAndGlyphs">PULSE</text>
<text x="727" y="187.1" font-size="6.9" font-weight="bold" fill="#141414" textLength="98.3" lengthAdjust="spacingAndGlyphs">1PHASE MULTI FUNCTION METER</text>
<text x="832.4" y="187.1" font-size="6.9" font-weight="bold" fill="#141414" textLength="19.1" lengthAdjust="spacingAndGlyphs">TXM16</text>
<text x="728.3" y="197.0" font-size="5.9" font-weight="normal" fill="#2d2d2d" textLength="13.3" lengthAdjust="spacingAndGlyphs">230V</text>
<text x="749.6" y="197.0" font-size="5.9" font-weight="normal" fill="#2d2d2d" textLength="23.4" lengthAdjust="spacingAndGlyphs">10(60)A</text>
<text x="779.5" y="197.0" font-size="5.9" font-weight="normal" fill="#2d2d2d" textLength="37.9" lengthAdjust="spacingAndGlyphs">1600imp/kwh</text>
<text x="824.3" y="197.0" font-size="5.9" font-weight="normal" fill="#2d2d2d" textLength="23.1" lengthAdjust="spacingAndGlyphs">50/60Hz</text>
<rect x="691.6" y="206" width="154.5" height="39.3" rx="1.5" fill="#1b1d1b"/>
<rect x="693.3" y="207.7" width="151.1" height="35.9" rx="0.8" fill="url(#mlcd)"/>
<g fill="#0c0d0c" stroke="#0c0d0c" stroke-width="0.90" stroke-linejoin="round"><polygon points="784.08,210.00 793.75,210.00 790.76,214.01 786.47,214.01"/><polygon points="794.75,211.90 794.57,211.75 791.24,214.74 790.63,222.98 792.74,225.53 793.82,224.43"/><polygon points="792.61,240.62 792.40,240.76 789.52,237.77 790.14,229.54 792.63,226.99 793.54,228.08"/><polygon points="781.65,242.51 791.31,242.51 788.93,238.50 784.63,238.50"/><polygon points="780.64,240.62 780.82,240.76 784.15,237.77 784.77,229.54 782.66,226.99 781.58,228.08"/><polygon points="782.79,211.90 782.99,211.75 785.88,214.74 785.26,222.98 782.77,225.53 781.85,224.43"/></g><ellipse cx="798.30" cy="240.00" rx="2.20" ry="2.60" fill="#0c0d0c" transform="rotate(4 798.30 240.00)"/><g fill="#0c0d0c" stroke="#0c0d0c" stroke-width="0.90" stroke-linejoin="round"><polygon points="818.65,211.90 818.47,211.75 815.14,214.74 814.53,222.98 816.64,225.53 817.72,224.43"/><polygon points="816.51,240.62 816.30,240.76 813.42,237.77 814.04,229.54 816.53,226.99 817.44,228.08"/></g>
<text x="825.5" y="241.3" font-size="8.2" font-weight="bold" fill="#111" textLength="16.3" lengthAdjust="spacingAndGlyphs">KWH</text>
<path d="M682.9 210.4 V216" stroke="#444" stroke-width="0.8"/><circle cx="682.9" cy="218.2" r="1.7" fill="none" stroke="#444" stroke-width="0.8"/>
<circle cx="682.9" cy="226.9" r="4.1" fill="none" stroke="#333" stroke-width="0.9"/><path d="M682 225.1 L683.3 224.4 V229.6" stroke="#333" stroke-width="0.9" fill="none"/>
<rect x="678.6" y="234.5" width="8.8" height="8.9" fill="none" stroke="#444" stroke-width="0.9"/><rect x="680.7" y="236.6" width="4.6" height="4.7" rx="0.8" fill="none" stroke="#666" stroke-width="0.8"/>
<text x="692.3" y="254.7" font-size="6.5" font-weight="normal" fill="#222" textLength="37.2" lengthAdjust="spacingAndGlyphs">IEC62053-21</text>
<path d="M736.7 250.0 A2.7 3.1 0 1 0 736.7 254.8" fill="none" stroke="#111" stroke-width="1.25"/><path d="M741.5 250.0 A2.7 3.1 0 1 0 741.5 254.8 M738.6 252.4 H740.9" fill="none" stroke="#111" stroke-width="1.25"/>
<path d="M674.6 260.3 H727.9 L734.1 270.4 H857.6 V272.2 Q857.6 273.7 856 273.7 H674.6 Z" fill="#2388cf"/>
<path d="M674.6 260.3 H727.9 L734.1 270.4 V273.7 H674.6 Z" fill="#2a9ae0"/>
<path d="M674.6 274.3 H857" stroke="#cfeaf8" stroke-width="0.9" fill="none"/>
<text x="680.4" y="269.9" font-size="8.6" font-weight="bold" font-style="italic" fill="#e4f4ff" textLength="43.2" lengthAdjust="spacingAndGlyphs">TAXNELE</text>
<circle cx="794.5" cy="260.9" r="10.5" fill="#d3ecfa"/><circle cx="794.5" cy="260.9" r="9.5" fill="#1c86d2"/><circle cx="794.5" cy="260.9" r="8.3" fill="#2a9de8"/>
<circle cx="833.6" cy="260.9" r="10.5" fill="#d3ecfa"/><circle cx="833.6" cy="260.9" r="9.5" fill="#1c86d2"/><circle cx="833.6" cy="260.9" r="8.3" fill="#2a9de8"/>
<text x="794.5" y="262.6" font-size="4.8" font-weight="bold" fill="#d6efff" text-anchor="middle">Menu</text>
<path d="M836.9 257.0 V261.9 H831.6" fill="none" stroke="#e6f6ff" stroke-width="1.9" stroke-linejoin="round" stroke-linecap="round"/><polygon points="828.4,261.9 832.2,259.2 832.2,264.6" fill="#e6f6ff"/>
</g>
</svg></body></html>
